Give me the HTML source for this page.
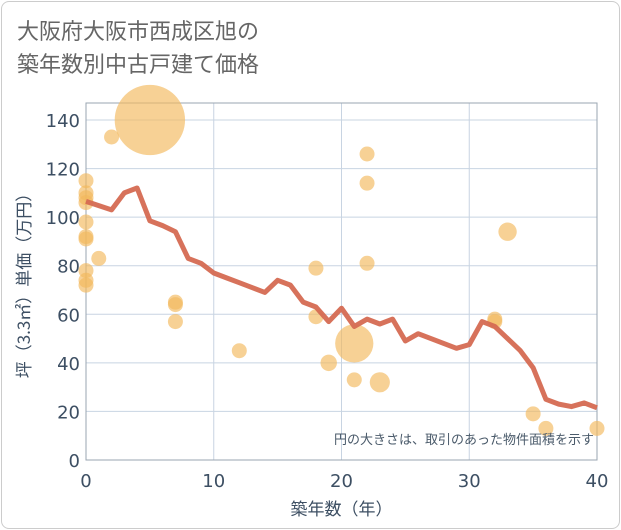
<!DOCTYPE html>
<html><head><meta charset="utf-8"><style>
body{margin:0;background:#fff;font-family:"DejaVu Sans","Noto Sans CJK JP",sans-serif;}
.card{position:absolute;left:1px;top:1px;width:617px;height:526px;border:1px solid #ccc;border-radius:8px;background:#fff;}
.title{position:absolute;left:17px;top:14px;font-size:22px;line-height:33px;color:#666;font-family:"Noto Sans CJK JP",sans-serif;}
</style></head><body>
<div class="card"></div>
<div class="title">大阪府大阪市西成区旭の<br>築年数別中古戸建て価格</div>
<svg id="chart" width="621" height="530" style="position:absolute;left:0;top:0"></svg>
<script>
const lineYears=[0,2,3,4,5,6,7,8,9,10,11,12,13,14,15,16,17,18,19,20,21,22,23,24,25,26,27,28,29,30,31,32,33,34,35,36,37,38,39,40];
const lineValues=[106.5,103,110,112,98.5,96.5,94,83,81,77,75,73,71,69,74,72,65,63,57,62.5,55,58,56,58,49,52,50,48,46,47.5,57,55,50,45,38,25,23,22,23.5,21.5];
const bubbleYears=[0,0,0,0,0,0,0,0,0,0,1,2,5,7,7,7,12,18,18,19,21,21,22,22,22,23,32,32,33,35,36,40];
const bubbleValues=[115,110,108,106,98,92,91,78,74,72,83,133,140,65,64,57,45,79,59,40,48,33,126,114,81,32,58,57,94,19,13,13];
const bubbleSizes=[1,1,1,1,1,1,1,1,1,1,1,1,22,1,1,1,1,1,1,1.2,6.5,1,1,1,1,1.8,1,1,1.5,1,1,1];
const xTicks=[0,10,20,30,40];
const yTicks=[0,20,40,60,80,100,120,140];
const L=86,R=597,T=103,B=460;
const xs=v=>L+(v/40)*(R-L);
const ys=v=>B-(v/140)*(460-120);
const svg=document.getElementById('chart');
const NS='http://www.w3.org/2000/svg';
function mk(t,a){const e=document.createElementNS(NS,t);for(const k in a)e.setAttribute(k,a[k]);svg.appendChild(e);return e;}
xTicks.forEach(t=>{const g=mk('line',{x1:xs(t),x2:xs(t),y1:T,y2:B,stroke:'#c8d4e2','stroke-width':1});


const tx=mk('text',{x:xs(t),y:B+27,'text-anchor':'middle','font-size':18,fill:'#3d4f63'});tx.textContent=t;

});
yTicks.forEach(t=>{const g=mk('line',{x1:L,x2:R,y1:ys(t),y2:ys(t),stroke:'#c8d4e2','stroke-width':1});


const tx=mk('text',{x:L-6,y:ys(t)+7,'text-anchor':'end','font-size':18,fill:'#3d4f63'});tx.textContent=t;

});
const frame=mk('rect',{x:L,y:T,width:R-L,height:B-T,fill:'none',stroke:'#9aa5b1','stroke-width':1});


bubbleYears.forEach((y,i)=>{const c=mk('circle',{cx:xs(y),cy:ys(bubbleValues[i]),r:7.5*Math.sqrt(bubbleSizes[i]),fill:'#f2b85c','fill-opacity':0.65});

});
const p=mk('polyline',{points:lineYears.map((y,i)=>xs(y)+','+ys(lineValues[i])).join(' '),fill:'none',stroke:'#d56a52','stroke-width':5,'stroke-linejoin':'round','stroke-opacity':0.95});


const note=mk('text',{x:R-3,y:444,'text-anchor':'end','font-size':13,fill:'#4a5a6a','font-family':'Noto Sans CJK JP, sans-serif'});note.textContent='円の大きさは、取引のあった物件面積を示す';


const xt=mk('text',{x:(L+R)/2,y:515,'text-anchor':'middle','font-size':17,fill:'#3d4f63','font-family':'Noto Sans CJK JP, sans-serif'});xt.textContent='築年数（年）';


const yt=mk('text',{x:0,y:0,'text-anchor':'middle','font-size':17,fill:'#3d4f63','font-family':'Noto Sans CJK JP, sans-serif',transform:'translate(30,'+((T+B)/2)+') rotate(-90)'});yt.textContent='坪（3.3㎡）単価（万円）';


</script>
</body></html>
